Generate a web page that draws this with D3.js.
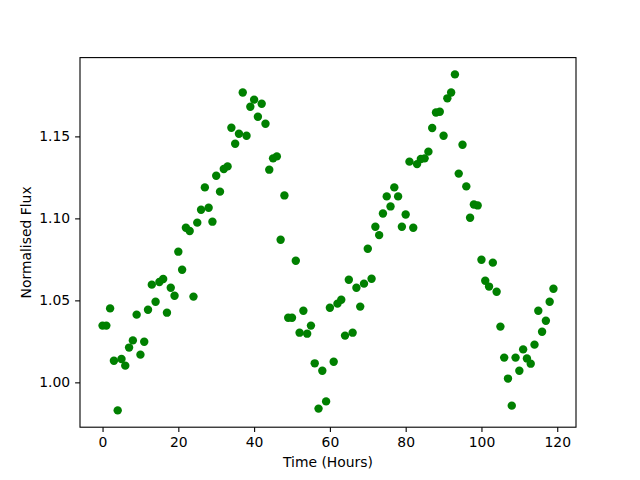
<!DOCTYPE html>
<html>
<head>
<meta charset="utf-8">
<script src="https://cdn.jsdelivr.net/npm/d3@7"></script>
<style>
    body { margin: 0; background: #fff; }
    text { font-family: "DejaVu Sans", sans-serif; }
</style>
</head>
<body>
<div class="canvas"></div>
<script>
// Data
const hours = [
    0, 1, 2, 3, 4, 5, 6, 7, 8, 9, 10, 11, 12, 13, 14, 15, 16, 17, 18, 19,
    20, 21, 22, 23, 24, 25, 26, 27, 28, 29, 30, 31, 32, 33, 34, 35, 36, 37, 38, 39,
    40, 41, 42, 43, 44, 45, 46, 47, 48, 49, 50, 51, 52, 53, 54, 55, 56, 57, 58, 59,
    60, 61, 62, 63, 64, 65, 66, 67, 68, 69, 70, 71, 72, 73, 74, 75, 76, 77, 78, 79,
    80, 81, 82, 83, 84, 85, 86, 87, 88, 89, 90, 91, 92, 93, 94, 95, 96, 97, 98, 99,
    100, 101, 102, 103, 104, 105, 106, 107, 108, 109, 110, 111, 112, 113, 114, 115, 116, 117, 118, 119
];

const flux = [
    1.0346, 1.0346, 1.0451, 1.0132, 0.9829, 1.0142, 1.0102, 1.0212, 1.0256, 1.0413,
    1.0169, 1.0248, 1.0443, 1.0596, 1.0492, 1.0612, 1.0630, 1.0425, 1.0577, 1.0528,
    1.0797, 1.0687, 1.0943, 1.0923, 1.0523, 1.0974, 1.1053, 1.1189, 1.1065, 1.0980,
    1.1260, 1.1163, 1.1301, 1.1317, 1.1553, 1.1455, 1.1516, 1.1768, 1.1504, 1.1681,
    1.1724, 1.1620, 1.1699, 1.1577, 1.1297, 1.1366, 1.1378, 1.0870, 1.1140, 1.0394,
    1.0394, 1.0742, 1.0303, 1.0437, 1.0297, 1.0346, 1.0116, 0.9840, 1.0071, 0.9884,
    1.0455, 1.0126, 1.0480, 1.0504, 1.0285, 1.0626, 1.0303, 1.0577, 1.0462, 1.0602,
    1.0815, 1.0632, 1.0949, 1.0898, 1.1030, 1.1134, 1.1073, 1.1189, 1.1134, 1.0949,
    1.1024, 1.1346, 1.0943, 1.1331, 1.1362, 1.1366, 1.1407, 1.1551, 1.1646, 1.1650,
    1.1504, 1.1732, 1.1768, 1.1878, 1.1273, 1.1449, 1.1195, 1.1004, 1.1085, 1.1079,
    1.0748, 1.0620, 1.0584, 1.0730, 1.0553, 1.0340, 1.0151, 1.0023, 0.9858, 1.0151,
    1.0071, 1.0201, 1.0146, 1.0114, 1.0230, 1.0437, 1.0309, 1.0376, 1.0492, 1.0571
];

const xTicks = [0, 20, 40, 60, 80, 100, 120];
const yTicks = [1.00, 1.05, 1.10, 1.15];

const points = hours.map((h, i) => ({ t: h, f: flux[i] }));

// Dimensions (matplotlib default figure layout)
const dims = {
    width: 640,
    height: 480,
    left: 80,
    right: 576,
    top: 57.6,
    bottom: 427.2
};

const svg = d3.select('.canvas')
    .append('svg')
    .attr('width', dims.width)
    .attr('height', dims.height);

// Scales with 5% margins like matplotlib
const xPad = (d3.max(hours) - d3.min(hours)) * 0.05;
const yPad = (d3.max(flux) - d3.min(flux)) * 0.05;

const x = d3.scaleLinear()
    .domain([d3.min(hours) - xPad, d3.max(hours) + xPad])
    .range([dims.left, dims.right]);

const y = d3.scaleLinear()
    .domain([d3.min(flux) - yPad, d3.max(flux) + yPad])
    .range([dims.bottom, dims.top]);

// Points
svg.append('g')
    .selectAll('circle')
    .data(points)
    .enter()
    .append('circle')
        .attr('cx', d => x(d.t))
        .attr('cy', d => y(d.f))
        .attr('r', 4.2)
        .attr('fill', '#008000');

// Frame
svg.append('rect')
    .attr('x', dims.left)
    .attr('y', dims.top)
    .attr('width', dims.right - dims.left)
    .attr('height', dims.bottom - dims.top)
    .attr('fill', 'none')
    .attr('stroke', '#000')
    .attr('stroke-width', 1.1);

// Axes
const xAxis = d3.axisBottom(x)
    .tickValues(xTicks)
    .tickFormat(d3.format('d'))
    .tickSize(4.9)
    .tickPadding(4.9);

const yAxis = d3.axisLeft(y)
    .tickValues(yTicks)
    .tickFormat(d3.format('.2f'))
    .tickSize(4.9)
    .tickPadding(4.9);

const gx = svg.append('g')
    .attr('transform', `translate(0, ${dims.bottom})`)
    .call(xAxis);

const gy = svg.append('g')
    .attr('transform', `translate(${dims.left}, 0)`)
    .call(yAxis);

[gx, gy].forEach(g => {
    g.select('.domain').remove();
    g.selectAll('line').attr('stroke', '#000').attr('stroke-width', 1.1);
    g.selectAll('text')
        .attr('fill', '#000')
        .style('font-family', '"DejaVu Sans", sans-serif')
        .style('font-size', '13.9px');
});

// Axis labels
svg.append('text')
    .attr('x', (dims.left + dims.right) / 2)
    .attr('y', 467)
    .attr('text-anchor', 'middle')
    .style('font-size', '13.9px')
    .text('Time (Hours)');

svg.append('text')
    .attr('transform', `translate(31, ${(dims.top + dims.bottom) / 2}) rotate(-90)`)
    .attr('text-anchor', 'middle')
    .style('font-size', '13.9px')
    .text('Normalised Flux');
</script>
</body>
</html>
